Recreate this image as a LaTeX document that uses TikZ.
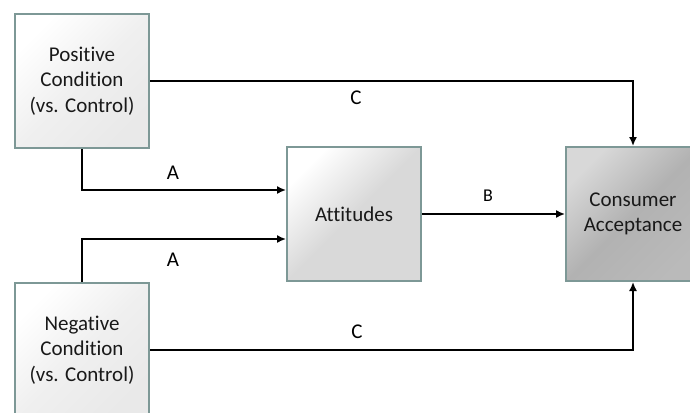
\documentclass[tikz,border=0pt]{standalone}
\usepackage{fontspec}
\setmainfont{Carlito}[Ligatures=NoCommon]
\usetikzlibrary{positioning,arrows.meta}
\definecolor{edgegray}{HTML}{7D9896}
\definecolor{condgray}{HTML}{E9E9E9}
\definecolor{attgray}{HTML}{D9D9D9}
\definecolor{accgray}{HTML}{B2B2B2}
\definecolor{acclight}{HTML}{D8D8D8}

\begin{document}
\begin{tikzpicture}[x=1pt,y=-1pt,
            box/.style={
                rectangle, draw=edgegray, line width=2pt, text=black!90,
                minimum width=134pt, minimum height=134pt, align=center,
                font=\fontsize{21}{25.5}\selectfont},
            condbox/.style={box, top color=white, bottom color=condgray,
                middle color=condgray!70, shading angle=45},
            attbox/.style={box, top color=white, bottom color=attgray,
                middle color=attgray, shading angle=45},
            accbox/.style={box, top color=acclight, bottom color=accgray!90,
                middle color=accgray, shading angle=45},
            link/.style={line width=1.6pt, -{Latex[length=9pt,width=8pt]}},
            lbl/.style={font=\fontsize{21}{25}\selectfont}]

            \clip (0,0) rectangle (690,412);

            % boxes
            \node [condbox] (pos) at (82,81) {Positive\\Condition\\(vs. Control)};
            \node [condbox] (neg) at (82,350) {Negative\\Condition\\(vs. Control)};
            \node [attbox] (att) at (354,214) {Attitudes};
            \node [accbox] (acc) at (633,214) {Consumer\\Acceptance};

            % paths
            \draw [link] (pos.east) -| (acc.north);
            \draw [link] (neg.east) -| (acc.south);
            \draw [link] (pos.south) |- ([yshift=24pt]att.west);
            \draw [link] (neg.north) |- ([yshift=-25pt]att.west);
            \draw [link] (att) -- (acc);

            % labels
            \node [lbl] (c1) at (356,98) {C};
            \node [lbl] (c2) at (357,332) {C};
            \node [lbl] (a1) at (173,173) {A};
            \node [lbl] (a2) at (173,260) {A};
            \node [lbl,font=\fontsize{18}{21}\selectfont] (b1) at (488,196) {B};

        \end{tikzpicture}
\end{document}
